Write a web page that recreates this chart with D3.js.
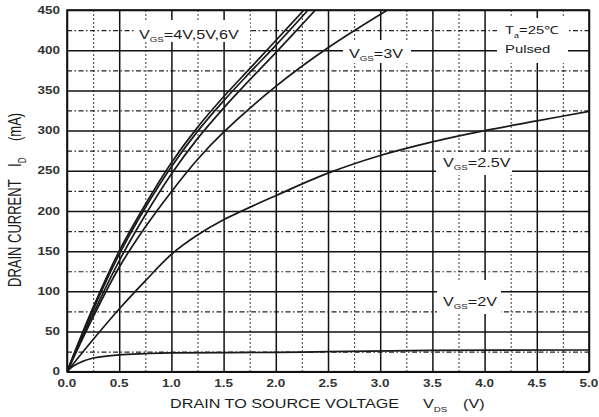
<!DOCTYPE html>
<html>
<head>
<meta charset="utf-8">
<script src="https://cdn.jsdelivr.net/npm/d3@7"></script>
<style>
body { margin: 0; background: #fff; }
text { font-family: "Liberation Sans", Arial, sans-serif; fill: #1c1c1c; }
</style>
</head>
<body>
<svg width="599" height="417"></svg>
<script>
// Drain current vs drain-source voltage, one curve per gate voltage

var xMajor = [0, 0.5, 1.0, 1.5, 2.0, 2.5, 3.0, 3.5, 4.0, 4.5, 5.0];
var xMinor = [0.25, 0.75, 1.25, 1.75, 2.25, 2.75, 3.25, 3.75, 4.25, 4.75];
var xTickLabels = ["0.0", "0.5", "1.0", "1.5", "2.0", "2.5", "3.0", "3.5", "4.0", "4.5", "5.0"];
var yMajor = [0, 50, 100, 150, 200, 250, 300, 350, 400, 450];
var yMinor = [25, 75, 125, 175, 225, 275, 325, 375, 425];
var yTickLabels = ["0", "50", "100", "150", "200", "250", "300", "350", "400", "450"];

// readings: VDS (V) and ID (mA)
var vds6V = [0, 0.1, 0.25, 0.5, 0.75, 1.0, 1.25, 1.5, 1.75, 2.0, 2.27];
var id6V  = [0, 33, 80, 150, 208, 260, 304, 342, 377, 412, 450];
var vds5V = [0, 0.1, 0.25, 0.5, 0.75, 1.0, 1.25, 1.5, 1.75, 2.0, 2.31];
var id5V  = [0, 31, 77, 146, 204, 255, 299, 337, 372, 406, 450];
var vds4V = [0, 0.1, 0.25, 0.5, 0.75, 1.0, 1.25, 1.5, 1.75, 2.0, 2.38];
var id4V  = [0, 29, 72, 138, 195, 246, 290, 328, 363, 397, 450];
var vds3V = [0, 0.25, 0.5, 0.75, 1.0, 1.25, 1.5, 2.0, 2.5, 3.07];
var id3V  = [0, 68, 130, 180, 224, 264, 298, 355, 403, 450];
var vds25V = [0, 0.25, 0.5, 0.75, 1.0, 1.25, 1.5, 2.0, 2.5, 3.0, 3.5, 4.0, 4.5, 5.0];
var id25V  = [0, 40, 78, 113, 146, 170, 189, 219, 247, 269, 286, 300, 312, 324];
var vds2V = [0, 0.05, 0.1, 0.25, 0.5, 0.75, 1.0, 2.0, 2.5, 3.5, 5.0];
var id2V  = [0, 6, 10, 17, 21, 22.5, 23.5, 24, 25, 26.5, 27];

var curves = [
	{vds: vds6V, id: id6V},
	{vds: vds5V, id: id5V},
	{vds: vds4V, id: id4V},
	{vds: vds3V, id: id3V},
	{vds: vds25V, id: id25V},
	{vds: vds2V, id: id2V}
];

draw();

function draw(){
	var svg = d3.select("svg");
	var plotLeft = 67, plotRight = 589, plotTop = 10, plotBottom = 371.7;
	var w = plotRight - plotLeft, h = plotBottom - plotTop;
	var SX = 1.35; // the lettering in the picture is wide

	var x = d3.scaleLinear().domain([0, 5]).range([plotLeft, plotRight]);
	var y = d3.scaleLinear().domain([0, 450]).range([plotBottom, plotTop]);

	svg.append("rect").attr("width", 599).attr("height", 417).attr("fill", "#fff");

	// grid: minor lines first, then solid majors
	var gMinorX = svg.append("g")
		.attr("transform", "translate(0," + plotBottom + ")")
		.call(d3.axisBottom(x).tickValues(xMinor).tickSize(-h).tickFormat(""));
	var gMinorY = svg.append("g")
		.attr("transform", "translate(" + plotLeft + ",0)")
		.call(d3.axisLeft(y).tickValues(yMinor).tickSize(-w).tickFormat(""));
	var gMajorX = svg.append("g")
		.attr("transform", "translate(0," + plotBottom + ")")
		.call(d3.axisBottom(x).tickValues(xMajor).tickSize(-h).tickFormat(""));
	var gMajorY = svg.append("g")
		.attr("transform", "translate(" + plotLeft + ",0)")
		.call(d3.axisLeft(y).tickValues(yMajor).tickSize(-w).tickFormat(""));

	[gMinorX, gMinorY, gMajorX, gMajorY].forEach(g => g.select(".domain").remove());
	gMinorX.selectAll("line").attr("stroke", "#222").attr("stroke-width", 1.2).attr("stroke-dasharray", "1.5,2.5");
	gMinorY.selectAll("line").attr("stroke", "#222").attr("stroke-width", 1.2).attr("stroke-dasharray", "5,2.5,1.5,2.5");
	gMajorX.selectAll("line").attr("stroke", "#111").attr("stroke-width", 1.5);
	gMajorY.selectAll("line").attr("stroke", "#111").attr("stroke-width", 1.5);

	// white patches behind the in-plot labels
	var patches = [
		[134, 20, 116, 22],
		[343, 40, 68, 23],
		[497, 18, 71, 45],
		[436, 152, 76, 23],
		[437, 280, 64, 34]
	];
	svg.append("g").selectAll("rect").data(patches).enter().append("rect")
		.attr("x", d => d[0]).attr("y", d => d[1])
		.attr("width", d => d[2]).attr("height", d => d[3])
		.attr("fill", "#fff");

	svg.append("clipPath").attr("id", "plotclip")
		.append("rect").attr("x", plotLeft).attr("y", plotTop).attr("width", w).attr("height", h);

	var line = d3.line()
		.x(d => x(d[0]))
		.y(d => y(d[1]))
		.curve(d3.curveCatmullRom.alpha(0.5));

	svg.append("g").attr("clip-path", "url(#plotclip)")
		.selectAll("path").data(curves).enter().append("path")
		.attr("d", c => line(c.vds.map((v, i) => [v, c.id[i]])))
		.attr("fill", "none")
		.attr("stroke", "#1a1a1a")
		.attr("stroke-width", 1.7);

	svg.append("rect")
		.attr("x", plotLeft).attr("y", plotTop).attr("width", w).attr("height", h)
		.attr("fill", "none").attr("stroke", "#111").attr("stroke-width", 1.6);

	// tick labels
	svg.append("g").selectAll("text").data(xMajor).enter().append("text")
		.attr("transform", d => "translate(" + x(d) + ",387) scale(" + SX + ",1)")
		.attr("text-anchor", "middle")
		.attr("font-size", 10)
		.attr("font-weight", "bold")
		.style("fill", "#333")
		.text((d, i) => xTickLabels[i]);

	svg.append("g").selectAll("text").data(yMajor).enter().append("text")
		.attr("transform", d => "translate(60," + (y(d) + 3.6) + ") scale(" + SX + ",1)")
		.attr("text-anchor", "end")
		.attr("font-size", 10)
		.attr("font-weight", "bold")
		.style("fill", "#333")
		.text((d, i) => yTickLabels[i]);

	// text with a subscript: main, sub, rest
	function subText(px, py, size, main, sub, rest){
		var t = svg.append("text")
			.attr("transform", "translate(" + px + "," + py + ") scale(" + SX + ",1)")
			.attr("font-size", size);
		t.append("tspan").text(main);
		t.append("tspan").attr("font-size", size * 0.6).attr("dy", 3.5).text(sub);
		if (rest) t.append("tspan").attr("dy", -3.5).text(rest);
		return t;
	}

	subText(139, 38.5, 12, "V", "GS", "=4V,5V,6V");
	subText(349, 57.5, 12, "V", "GS", "=3V");
	subText(443, 166.5, 12, "V", "GS", "=2.5V");
	subText(443, 305.5, 12, "V", "GS", "=2V");
	subText(505, 34, 11, "T", "a", "=25\u2103");
	svg.append("text")
		.attr("transform", "translate(505,52.5) scale(" + SX + ",1)")
		.attr("font-size", 11)
		.text("Pulsed");

	// axis titles
	svg.append("text")
		.attr("transform", "translate(170,408) scale(" + SX + ",1)")
		.attr("font-size", 12)
		.text("DRAIN TO SOURCE VOLTAGE");
	subText(423, 408, 12, "V", "DS");
	svg.append("text")
		.attr("transform", "translate(463,408) scale(" + SX + ",1)")
		.attr("font-size", 12)
		.text("(V)");

	var yTitle = svg.append("g").attr("transform", "translate(21,0) rotate(-90) scale(1," + SX + ")");
	yTitle.append("text").attr("x", -287).attr("font-size", 13).text("DRAIN CURRENT");
	var ysub = yTitle.append("text").attr("x", -167).attr("font-size", 13);
	ysub.append("tspan").text("I");
	ysub.append("tspan").attr("font-size", 8).attr("dy", 3.5).text("D");
	yTitle.append("text").attr("x", -141).attr("font-size", 13).text("(mA)");
}
</script>
</body>
</html>
